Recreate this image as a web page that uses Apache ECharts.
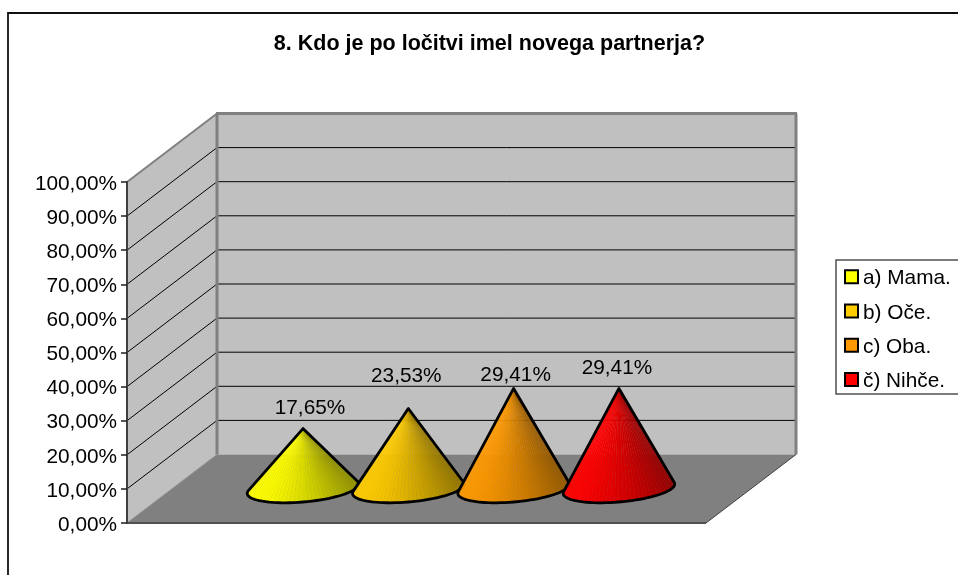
<!DOCTYPE html>
<html lang="en">
<head>
	<meta charset="UTF-8">
	<title>8. Kdo je po ločitvi imel novega partnerja?</title>
	<script src="https://cdn.jsdelivr.net/npm/echarts@6/dist/echarts.min.js"></script>
	<style>
		html, body { margin: 0; padding: 0; background: #fff; }
		#container { width: 958px; height: 575px; }
	</style>
</head>
<body>
	<div id="container"></div>
	<script>
		var titleText = '8. Kdo je po ločitvi imel novega partnerja?';
		var categories = ['a) Mama.', 'b) Oče.', 'c) Oba.', 'č) Nihče.'];
		var shares = [17.65, 23.53, 29.41, 29.41];
		var colors = [[255, 255, 0], [255, 204, 0], [255, 153, 0], [255, 0, 0]];
		var yTicks = [0, 10, 20, 30, 40, 50, 60, 70, 80, 90, 100];
		// Excel moved the value labels by hand, so they do not sit at a fixed distance from the tips
		var labelShift = [[7, -20.5], [-2, -32], [2, -13.5], [-2, -20.5]];

		var FONT = '"Liberation Sans", Arial, sans-serif';
		var X_MIN = -1.244, X_MAX = 4.254;
		var DEPTH_X = 90, DEPTH_Y = -68.5;

		function fmtPct(v) {
			return v.toFixed(2).replace('.', ',') + '%';
		}

		function back(p, k) {
			return [p[0] + DEPTH_X * k, p[1] + DEPTH_Y * k];
		}

		function poly(points, fill, stroke, lineWidth) {
			return {
				type: 'polygon',
				shape: { points: points },
				style: { fill: fill, stroke: stroke || null, lineWidth: lineWidth || 0, lineJoin: 'round' }
			};
		}

		function line(a, b, color, width) {
			return {
				type: 'line',
				shape: { x1: a[0], y1: a[1], x2: b[0], y2: b[1] },
				style: { stroke: color, lineWidth: width }
			};
		}

		function renderWalls(params, api) {
			var p0 = api.coord([X_MIN, 0]);
			var p1 = api.coord([X_MAX, 0]);
			var top = api.coord([X_MIN, 100]);
			var topBack = back(top, 1);
			var b0 = back(p0, 1);
			var b1 = back(p1, 1);
			var kids = [
				poly([p0, top, topBack, b0], '#c0c0c0'),
				poly([b0, [b0[0], topBack[1]], [b1[0], topBack[1]], b1], '#c0c0c0'),
				poly([p0, p1, b1, b0], '#808080')
			];
			// the 0 and 100 lines are the edges of the walls, drawn afterwards
			yTicks.slice(1, -1).forEach(function (t) {
				var a = api.coord([X_MIN, t]);
				var b = back(a, 1);
				kids.push(line(a, b, '#000', 1));
				kids.push(line(b, [b1[0], b[1]], '#000', 1));
			});
			kids.push(line(b0, topBack, '#808080', 3));
			kids.push(line(top, topBack, '#808080', 2));
			kids.push(line([topBack[0] - 1, topBack[1]], [b1[0] + 1, topBack[1]], '#808080', 3));
			kids.push(line(b1, [b1[0], topBack[1]], '#808080', 3));
			kids.push(line(p1, b1, '#404040', 1));
			kids.push(line(p0, b0, '#909090', 1));
			kids.push(line(p0, p1, '#505050', 2));
			return { type: 'group', children: kids };
		}

		function shade(rgb, f) {
			return 'rgb(' + rgb.map(function (c) { return Math.round(c * f); }).join(',') + ')';
		}

		function coneRenderer(idx) {
			return function (params, api) {
				var apex = back(api.coord([api.value(0), api.value(1)]), 0.5);
				var c = back(api.coord([api.value(0), 0]), 0.5);
				var a = api.size([0.5, 0])[0];
				var px = DEPTH_X * 0.205, py = DEPTH_Y * 0.205;

				function rim(t) {
					return [c[0] + a * Math.cos(t) + px * Math.sin(t), c[1] + py * Math.sin(t)];
				}

				// look for the two points where the sides of the cone touch the base
				var start = Math.PI - 0.9, end = 2 * Math.PI + 0.9;
				var tLeft = start, tRight = end, minA = Infinity, maxA = -Infinity;
				for (var i = 0; i <= 720; i++) {
					var t = start + (end - start) * i / 720;
					var q = rim(t);
					var ang = Math.atan2(q[0] - apex[0], q[1] - apex[1]);
					if (ang < minA) { minA = ang; tLeft = t; }
					if (ang > maxA) { maxA = ang; tRight = t; }
				}

				var arc = [];
				var steps = 44;
				for (var j = 0; j <= steps; j++) {
					arc.push(rim(tLeft + (tRight - tLeft) * j / steps));
				}
				var xLeft = arc[0][0], xRight = arc[steps][0];
				var kids = [];
				for (var n = 0; n < steps; n++) {
					var mid = (arc[n][0] + arc[n + 1][0]) / 2;
					var frac = Math.max(0, Math.min(1, (mid - xLeft) / (xRight - xLeft)));
					var f = 1 - 0.42 * Math.pow(frac, 1.5);
					var fill = {
						type: 'linear', x: 0, y: apex[1], x2: 0, y2: c[1], global: true,
						colorStops: [
							{ offset: 0, color: shade(colors[idx], f * 0.86) },
							{ offset: 0.22, color: shade(colors[idx], f) },
							{ offset: 1, color: shade(colors[idx], f) }
						]
					};
					kids.push(poly([apex, arc[n], arc[n + 1]], fill, fill, 0.35));
				}
				kids.push({
					type: 'polygon',
					shape: { points: [apex].concat(arc) },
					style: { fill: null, stroke: '#000', lineWidth: 2.8, lineJoin: 'round' }
				});
				kids.push({
					type: 'text',
					style: {
						text: fmtPct(api.value(1)),
						x: apex[0] + labelShift[idx][0],
						y: apex[1] + labelShift[idx][1],
						align: 'center',
						verticalAlign: 'middle',
						font: '20.8px ' + FONT,
						fill: '#000'
					}
				});
				return { type: 'group', children: kids };
			};
		}

		var series = [{
			type: 'custom',
			silent: true,
			z: 1,
			renderItem: renderWalls,
			data: [[0, 0]]
		}];
		categories.forEach(function (name, i) {
			series.push({
				type: 'custom',
				name: name,
				silent: true,
				z: 2 + i,
				itemStyle: { color: shade(colors[i], 1) },
				renderItem: coneRenderer(i),
				data: [[i, shares[i]]]
			});
		});

		// plain text ignores a one sided padding, rich text does not
		var nudged = { fontFamily: FONT, fontSize: 20.8, color: '#000', lineHeight: 24, padding: [4, 0, 0, 0] };

		var myChart = echarts.init(document.getElementById('container'), null, { renderer: 'canvas' });
		myChart.setOption({
			animation: false,
			backgroundColor: '#fff',
			title: {
				text: titleText,
				left: 484.5,
				top: 28,
				textAlign: 'center',
				textStyle: { fontFamily: FONT, fontSize: 21.5, fontWeight: 'bold', color: '#000' }
			},
			grid: { left: 127, top: 182, width: 579, height: 341 },
			xAxis: { type: 'value', min: X_MIN, max: X_MAX, show: false },
			yAxis: {
				type: 'value',
				min: 0,
				max: 100,
				interval: 10,
				z: 20,
				axisLine: { show: true, onZero: false, lineStyle: { color: '#404040', width: 2 } },
				axisTick: { show: true, length: 6, lineStyle: { color: '#202020', width: 1.5 } },
				splitLine: { show: false },
				axisLabel: {
					margin: 10,
					formatter: function (v) { return '{v|' + fmtPct(v) + '}'; },
					rich: { v: nudged }
				}
			},
			legend: {
				orient: 'vertical',
				left: 836,
				top: 260,
				padding: [4.2, 60, 1.9, 8],
				itemWidth: 13,
				itemHeight: 13,
				itemGap: 9.3,
				icon: 'rect',
				selectedMode: false,
				borderColor: '#505050',
				borderWidth: 1.5,
				backgroundColor: '#fff',
				formatter: '{v|{name}}',
				textStyle: { rich: { v: nudged } },
				data: categories.map(function (name) {
					return { name: name, itemStyle: { borderColor: '#000', borderWidth: 2 } };
				})
			},
			graphic: [{
				type: 'polyline',
				silent: true,
				shape: { points: [[8, 575], [8, 13], [958, 13]] },
				style: { stroke: '#111', lineWidth: 1.8, fill: null }
			}],
			series: series
		});
	</script>
</body>
</html>
